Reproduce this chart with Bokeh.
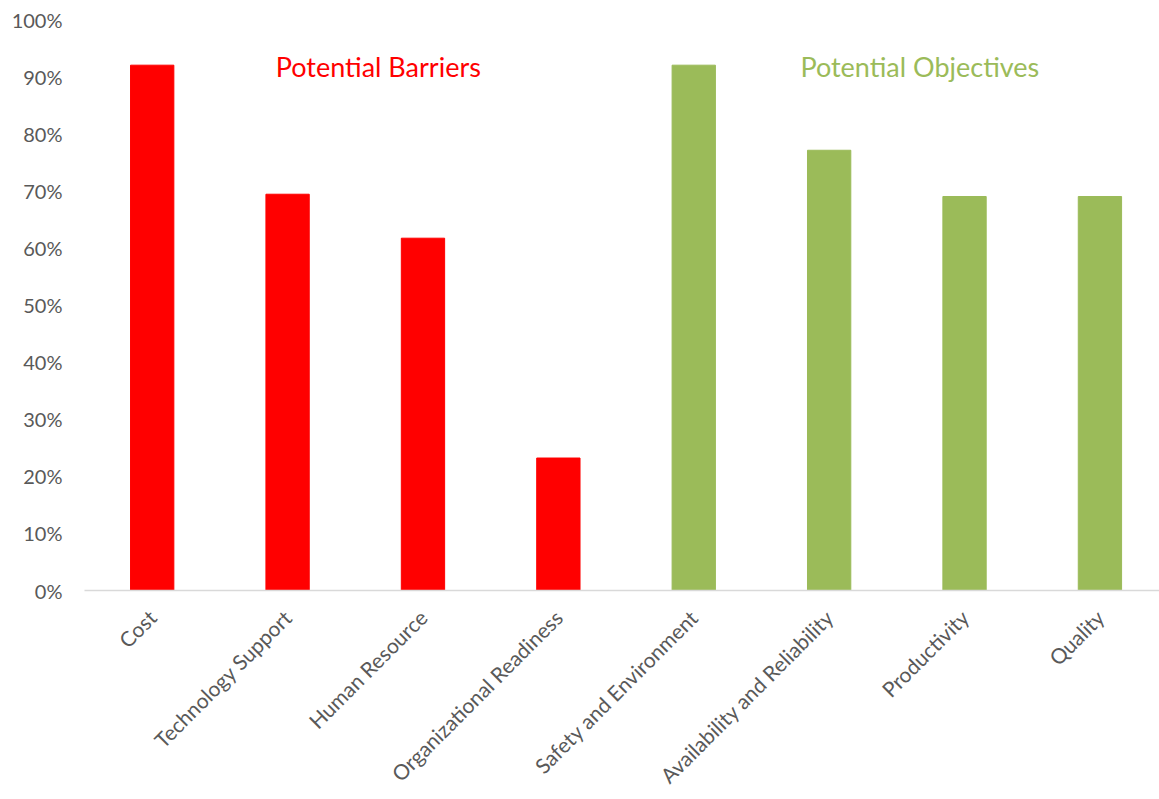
from bokeh.plotting import figure
from bokeh.models import Range1d, FixedTicker, NumeralTickFormatter, Label, ColumnDataSource
from bokeh.embed import file_html
from bokeh.resources import INLINE
import math

categories = ["Cost", "Technology Support", "Human Resource", "Organizational Readiness",
              "Safety and Environment", "Availability and Reliability", "Productivity", "Quality"]
values = [0.92, 0.694, 0.617, 0.232, 0.92, 0.771, 0.69, 0.69]
groups = ["Barriers"] * 4 + ["Objectives"] * 4
group_colors = {"Barriers": "#FF0000", "Objectives": "#9BBB59"}
y_ticks = [0, 0.1, 0.2, 0.3, 0.4, 0.5, 0.6, 0.7, 0.8, 0.9, 1.0]

xs = list(range(len(categories)))
src = ColumnDataSource(dict(x=xs, top=values, color=[group_colors[g] for g in groups]))

p = figure(width=1159, height=799, output_backend="svg", toolbar_location=None,
           x_range=Range1d(-0.5, 7.44), y_range=Range1d(0, 1.0),
           min_border_left=84, min_border_right=0, min_border_top=19, min_border_bottom=209)
p.vbar(x="x", top="top", width=0.32, color="color", source=src)

p.xgrid.visible = False
p.ygrid.visible = False
p.outline_line_color = None
p.background_fill_color = "white"
p.border_fill_color = "white"

p.xaxis.ticker = FixedTicker(ticks=xs)
p.xaxis.major_label_overrides = {i: c for i, c in enumerate(categories)}
p.xaxis.major_label_orientation = math.pi / 4
p.xaxis.axis_line_color = "#d9d9d9"
p.xaxis.axis_line_width = 1.5
p.xaxis.major_tick_line_color = None
p.xaxis.minor_tick_line_color = None
p.xaxis.major_label_text_font = "Lato"
p.xaxis.major_label_text_font_size = "21px"
p.xaxis.major_label_text_color = "#595959"
p.xaxis.major_label_standoff = 17

p.yaxis.ticker = FixedTicker(ticks=y_ticks)
p.yaxis.formatter = NumeralTickFormatter(format="0%")
p.yaxis.axis_line_color = None
p.yaxis.major_tick_line_color = None
p.yaxis.minor_tick_line_color = None
p.yaxis.major_label_text_font = "Lato"
p.yaxis.major_label_text_font_size = "20px"
p.yaxis.major_label_text_color = "#595959"
p.yaxis.major_label_standoff = 16

p.add_layout(Label(x=1.67, y=0.918, text="Potential Barriers", text_align="center",
                   text_baseline="middle", text_color="#FF0000", text_font="Lato",
                   text_font_size="27px"))
p.add_layout(Label(x=5.67, y=0.918, text="Potential Objectives", text_align="center",
                   text_baseline="middle", text_color="#9BBB59", text_font="Lato",
                   text_font_size="27px"))

open("out.html", "w").write(file_html(p, INLINE))
